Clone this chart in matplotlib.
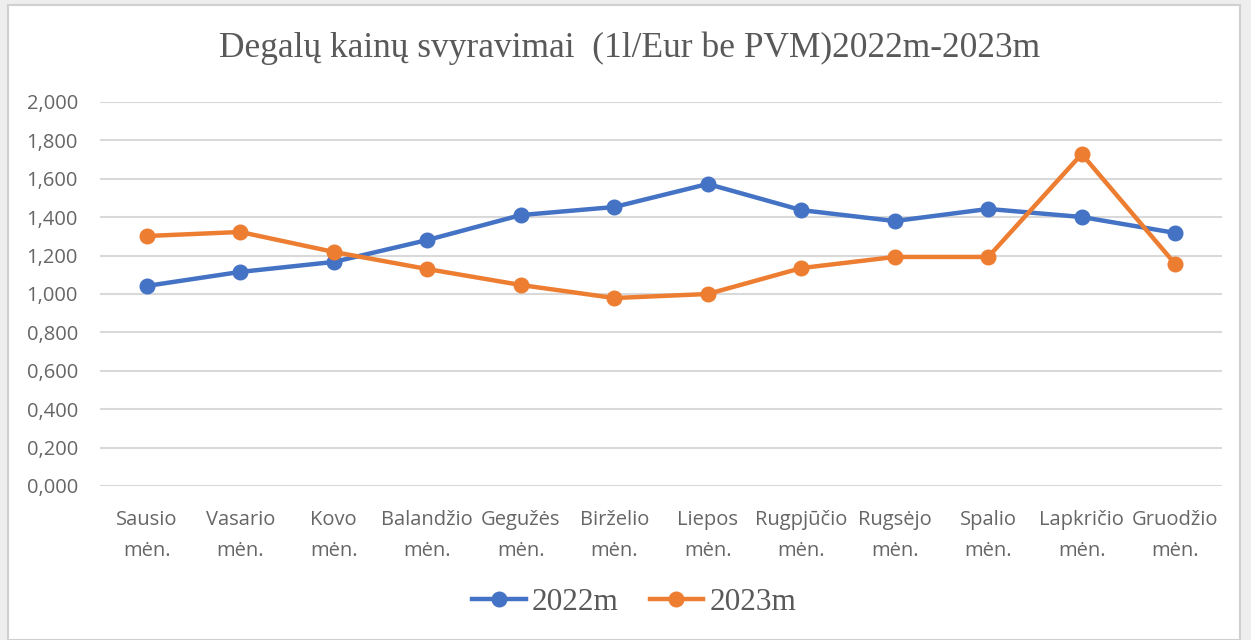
import matplotlib.pyplot as plt
from matplotlib.patches import Rectangle

months = ["Sausio\nmėn.", "Vasario\nmėn.", "Kovo\nmėn.", "Balandžio\nmėn.", "Gegužės\nmėn.",
          "Birželio\nmėn.", "Liepos\nmėn.", "Rugpjūčio\nmėn.", "Rugsėjo\nmėn.", "Spalio\nmėn.",
          "Lapkričio\nmėn.", "Gruodžio\nmėn."]
y2022 = [1.042, 1.115, 1.167, 1.281, 1.411, 1.453, 1.573, 1.437, 1.380, 1.443, 1.401, 1.318]
y2023 = [1.302, 1.323, 1.219, 1.130, 1.047, 0.979, 1.000, 1.135, 1.193, 1.193, 1.729, 1.156]
yticks = [0, 0.2, 0.4, 0.6, 0.8, 1.0, 1.2, 1.4, 1.6, 1.8, 2.0]

sans = ["Liberation Sans Narrow", "Open Sans", "DejaVu Sans"]
serif = ["Liberation Serif", "DejaVu Serif"]

fig = plt.figure(figsize=(12.51, 6.40), dpi=100, facecolor="#eeeeee")
fig.patches.append(Rectangle((8 / 1251, 0), 1232 / 1251, 635 / 640, transform=fig.transFigure,
                             facecolor="white", edgecolor="#d0d0d0", lw=1.5, zorder=-10))
ax = fig.add_axes([100 / 1251, 1 - 486 / 640, 1122 / 1251, 384 / 640])
ax.set_facecolor("none")

x = range(len(months))
ax.plot(x, y2022, color="#4472C4", lw=3.2, marker="o", ms=10.5, label="2022m", zorder=3)
ax.plot(x, y2023, color="#ED7D31", lw=3.2, marker="o", ms=10.5, label="2023m", zorder=3)

ax.set_xlim(-0.5, 11.5)
ax.set_ylim(0, 2.0)
ax.set_yticks(yticks)
ax.set_yticklabels([f"{v:.3f}".replace(".", ",") for v in yticks], family=sans, fontsize=14.5, color="#666666")
ax.set_xticks(list(x))
ax.set_xticklabels(months, family=sans, fontsize=14.5, color="#666666", linespacing=1.75)
ax.grid(axis="y", color="#d9d9d9", lw=1.5)
ax.set_axisbelow(True)
for s in ax.spines.values():
    s.set_visible(False)
ax.tick_params(length=0)
ax.tick_params(axis="y", pad=16)
ax.tick_params(axis="x", pad=17)

fig.text(0.503, 1 - 48 / 640, "Degalų kainų svyravimai  (1l/Eur be PVM)2022m-2023m",
         family=serif, fontsize=25.5, color="#595959", ha="center", va="center")
fig.legend(loc="center", bbox_to_anchor=(0.507, 1 - 602 / 640), ncol=2, frameon=False,
           prop={"family": serif, "size": 22.5}, labelcolor="#595959", handlelength=1.7,
           handletextpad=0.2, columnspacing=1.0)

fig.savefig("out.png", dpi=100, facecolor=fig.get_facecolor())
